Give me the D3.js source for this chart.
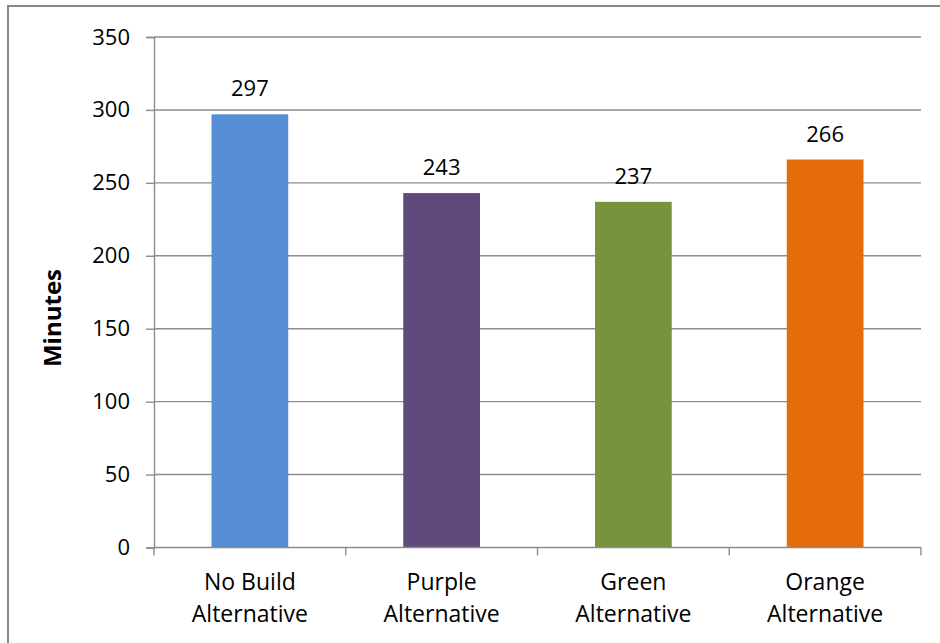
<!DOCTYPE html>
<html>
<head>
<meta charset="utf-8">
<script src="https://cdn.jsdelivr.net/npm/d3@7"></script>
<style>
  html, body { margin: 0; padding: 0; background: #fff; }
  svg { display: block; }
  text { font-family: "Open Sans", "Noto Sans", sans-serif; fill: #000; }
</style>
</head>
<body>
<script>
const categories = [["No Build", "Alternative"], ["Purple", "Alternative"], ["Green", "Alternative"], ["Orange", "Alternative"]];
const values = [297, 243, 237, 266];
const colors = ["#558ED5", "#604A7B", "#77933C", "#E46C0A"];
const yTicks = [0, 50, 100, 150, 200, 250, 300, 350];
const yTitle = "Minutes";

const W = 940, H = 643;
const plot = { left: 154, right: 921, top: 37, bottom: 547.5 };

const svg = d3.select("body").append("svg").attr("width", W).attr("height", H);

// outer chart border
svg.append("rect")
  .attr("x", 8).attr("y", 6).attr("width", W + 10).attr("height", H + 10)
  .attr("fill", "#fff").attr("stroke", "#878787").attr("stroke-width", 2);

const x = d3.scaleBand().domain(d3.range(categories.length))
  .range([plot.left, plot.right]).paddingInner(0.6).paddingOuter(0.3);
const xCat = d3.scaleBand().domain(d3.range(categories.length))
  .range([plot.left, plot.right]);
const y = d3.scaleLinear().domain([0, 350]).range([plot.bottom, plot.top]);

// gridlines
svg.append("g").selectAll("line").data(yTicks.filter(d => d > 0)).join("line")
  .attr("x1", plot.left).attr("x2", plot.right)
  .attr("y1", d => y(d)).attr("y2", d => y(d))
  .attr("stroke", "#8c8c8c").attr("stroke-width", 1.4);

// y axis
const yAxis = svg.append("g").attr("transform", `translate(${plot.left},0)`)
  .call(d3.axisLeft(y).tickValues(yTicks).tickSize(8).tickPadding(16));
yAxis.select(".domain").attr("stroke", "#8c8c8c").attr("stroke-width", 1.4);
yAxis.selectAll(".tick line").attr("stroke", "#8c8c8c").attr("stroke-width", 1.4);
yAxis.selectAll(".tick text").attr("font-size", 22).attr("font-family", "Open Sans").attr("fill", "#000");

// bars
svg.append("g").selectAll("rect").data(values).join("rect")
  .attr("x", (d, i) => x(i)).attr("width", x.bandwidth())
  .attr("y", d => y(d)).attr("height", d => y(0) - y(d))
  .attr("fill", (d, i) => colors[i]);

// x axis
const xAxisG = svg.append("g").attr("transform", `translate(0,${plot.bottom})`);
xAxisG.append("line").attr("x1", plot.left).attr("x2", plot.right)
  .attr("stroke", "#8c8c8c").attr("stroke-width", 1.4);
xAxisG.selectAll("line.tk").data(d3.range(categories.length + 1)).join("line")
  .attr("class", "tk")
  .attr("x1", i => i < categories.length ? xCat(i) : plot.right)
  .attr("x2", i => i < categories.length ? xCat(i) : plot.right)
  .attr("y1", 0).attr("y2", 8)
  .attr("stroke", "#8c8c8c").attr("stroke-width", 1.4);

const labels = svg.append("g").selectAll("text").data(categories).join("text")
  .attr("text-anchor", "middle").attr("font-size", 23);
labels.each(function(lines, i) {
  const t = d3.select(this);
  lines.forEach((ln, j) => {
    t.append("tspan").attr("x", xCat(i) + xCat.bandwidth() / 2)
      .attr("y", 590 + j * 32).text(ln);
  });
});

// data labels
svg.append("g").selectAll("text").data(values).join("text")
  .attr("x", (d, i) => x(i) + x.bandwidth() / 2)
  .attr("y", d => y(d) - 18)
  .attr("text-anchor", "middle").attr("font-size", 22)
  .text(d => d);

// y title
svg.append("text")
  .attr("transform", `translate(61,318) rotate(-90)`)
  .attr("text-anchor", "middle").attr("font-size", 24).attr("font-weight", "bold")
  .text(yTitle);
</script>
</body>
</html>
